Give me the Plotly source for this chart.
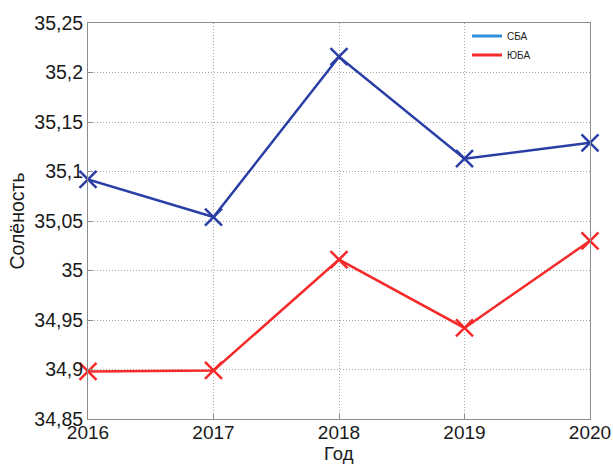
import plotly.graph_objects as go

years = [2016, 2017, 2018, 2019, 2020]
sba = [35.092, 35.054, 35.216, 35.113, 35.129]
yuba = [34.898, 34.899, 35.011, 34.942, 35.030]

y_ticks = [34.85, 34.9, 34.95, 35.0, 35.05, 35.1, 35.15, 35.2, 35.25]
y_tick_text = ["34,85", "34,9", "34,95", "35", "35,05", "35,1", "35,15", "35,2", "35,25"]

FONT = "Liberation Sans, Arial"

fig = go.Figure()

series = [
    ("СБА", sba, "#2a3fa6"),
    ("ЮБА", yuba, "#f52a2a"),
]
for name, vals, color in series:
    fig.add_trace(go.Scatter(
        x=years, y=vals, name=name, mode="lines+markers",
        line=dict(color=color, width=2.5),
        marker=dict(symbol="x-thin", size=17, line=dict(color=color, width=2.5)),
        cliponaxis=False, showlegend=False,
    ))

# legend entries drawn as plain line samples
legend_colors = {"СБА": "#2f8fdc", "ЮБА": "#f52a2a"}
for name, color in legend_colors.items():
    fig.add_trace(go.Scatter(
        x=[None], y=[None], name=name, mode="lines",
        line=dict(color=color, width=3),
    ))

axis_common = dict(
    showline=True, linecolor="#8c8c8c", linewidth=1, mirror=True,
    showgrid=True, gridcolor="#a8a8a8", griddash="1px,2px", gridwidth=1,
    ticks="inside", ticklen=5, tickcolor="#8c8c8c",
    zeroline=False, automargin=False,
)

fig.update_xaxes(
    range=[2016, 2020], tickvals=years, ticktext=[str(y) for y in years],
    ticklabelstandoff=-4,
    tickfont=dict(family=FONT, size=19, color="#1a1a1a"),
    **axis_common,
)
fig.update_yaxes(
    range=[34.85, 35.25], tickvals=y_ticks, ticktext=y_tick_text,
    tickfont=dict(family=FONT, size=19.5, color="#1a1a1a"),
    title=dict(text="Солёность", font=dict(family=FONT, size=19.5, color="#1a1a1a"), standoff=4),
    **axis_common,
)

# x-axis title placed just under the tick labels
fig.add_annotation(
    text="Год", x=0.5, y=-0.088, xref="paper", yref="paper",
    xanchor="center", yanchor="middle", showarrow=False,
    font=dict(family=FONT, size=18.5, color="#1a1a1a"),
)

fig.update_layout(
    width=613, height=464,
    margin=dict(l=88, r=23, t=23, b=45),
    plot_bgcolor="white", paper_bgcolor="white",
    legend=dict(
        x=0.755, y=1.004, xanchor="left", yanchor="top",
        font=dict(family=FONT, size=10, color="#1a1a1a"),
        bgcolor="rgba(255,255,255,0)", tracegroupgap=0,
        itemwidth=30,
    ),
)

fig.write_html("out.html")
